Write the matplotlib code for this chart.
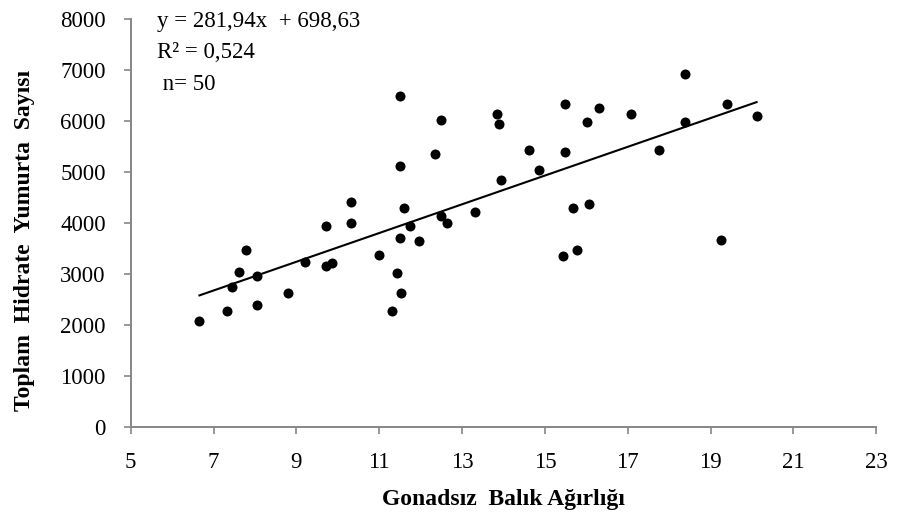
import numpy as np
import matplotlib
matplotlib.use("Agg")
import matplotlib.pyplot as plt

# gonadless fish weight vs total hydrated egg count
weight = [6.66, 7.33, 7.44, 7.62, 7.78, 8.06, 8.06, 8.79, 9.22, 9.71,
          9.71, 9.85, 10.33, 10.33, 10.99, 11.30, 11.43, 11.49, 11.49, 11.49,
          11.53, 11.59, 11.74, 11.97, 12.35, 12.50, 12.49, 12.64, 13.32, 13.84,
          13.90, 13.94, 14.62, 14.86, 15.49, 15.49, 15.44, 15.68, 15.77, 16.02,
          16.07, 16.31, 17.08, 17.75, 18.38, 18.38, 19.24, 19.39, 20.11]
eggs = [2074, 2264, 2735, 3042, 3474, 2963, 2382, 2617, 3238, 3945,
        3160, 3206, 4409, 3991, 3363, 2264, 3010, 6483, 5122, 3709,
        2617, 4298, 3945, 3638, 5351, 6019, 4141, 3991, 4219, 6136,
        5940, 4841, 5430, 5037, 6333, 5391, 3357, 4298, 3474, 5980,
        4376, 6255, 6136, 5430, 6921, 5980, 3670, 6333, 6097]

slope = 281.94
intercept = 698.63
r2 = "0,524"
n_label = "50"

xticks = [5, 7, 9, 11, 13, 15, 17, 19, 21, 23]
yticks = [0, 1000, 2000, 3000, 4000, 5000, 6000, 7000, 8000]

plt.rcParams["font.family"] = ["Liberation Serif", "DejaVu Serif"]

fig = plt.figure(figsize=(9.05, 5.3), dpi=100)
ax = fig.add_axes([0.1444, 0.1949, 0.8239, 0.7693])

ax.scatter(weight, eggs, s=52, color="black", zorder=3, linewidths=0)

xl = np.array([min(weight), max(weight)])
ax.plot(xl, slope * xl + intercept, color="black", linewidth=1.5, zorder=2)

ax.set_xlim(5, 23)
ax.set_ylim(0, 8000)
ax.set_xticks(xticks)
ax.set_yticks(yticks)
ax.tick_params(axis="both", direction="out", length=5, width=1.2,
               color="#868686", labelsize=16.5, labelcolor="black")
ax.tick_params(axis="x", pad=13)
ax.tick_params(axis="y", pad=13)

for side in ["top", "right"]:
    ax.spines[side].set_visible(False)
for side in ["left", "bottom"]:
    ax.spines[side].set_color("#868686")
    ax.spines[side].set_linewidth(1.4)

fig.text(157 / 905, 1 - 22 / 530, "y = 281,94x  + 698,63", fontsize=16.5,
         va="center", ha="left")
fig.text(157 / 905, 1 - 53 / 530, "R² = " + r2, fontsize=16.5,
         va="center", ha="left")
fig.text(157 / 905, 1 - 85 / 530, " n= " + n_label, fontsize=16.5,
         va="center", ha="left")

fig.text(503 / 905, 1 - 500 / 530, "Gonadsız  Balık Ağırlığı", fontsize=17,
         fontweight="bold", ha="center", va="center")
fig.text(25 / 905, 1 - 240 / 530, "Toplam  Hidrate  Yumurta  Sayısı", fontsize=17,
         fontweight="bold", ha="center", va="center", rotation=90)

fig.savefig("out.png", dpi=100)
